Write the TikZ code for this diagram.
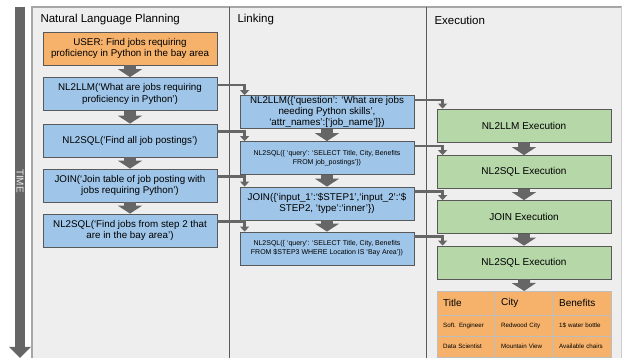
\documentclass[tikz,border=0pt]{standalone}
\usepackage{fontspec}
\setmainfont{Liberation Sans}
\usetikzlibrary{arrows.meta, positioning}

\definecolor{panelbg}{HTML}{EEEEEE}
\definecolor{arrowgray}{HTML}{666666}
\definecolor{framegray}{HTML}{595959}
\definecolor{planorange}{HTML}{F6B26B}
\definecolor{stepblue}{HTML}{9FC5E8}
\definecolor{execgreen}{HTML}{B6D7A8}
\definecolor{cellline}{HTML}{BDBDBD}

\begin{document}
\begin{tikzpicture}[x=1pt, y=-1pt,
  every node/.style={font=\fontsize{9.8}{11.5}\selectfont},
  box/.style={draw=framegray, line width=0.8pt, minimum width=174pt, minimum height=33pt,
    inner sep=1pt, align=center},
  userbox/.style={box, fill=planorange},
  callbox/.style={box, fill=stepblue},
  execbox/.style={box, fill=execgreen, font=\fontsize{10}{12}\selectfont},
  smalltext/.style={font=\fontsize{7}{9}\selectfont},
  flow/.style={draw=arrowgray, line width=12pt, -{Triangle[width=24pt, length=8pt]}},
  link/.style={draw=arrowgray, line width=2.6pt, -{Triangle[width=9pt, length=5pt]}},
  title/.style={anchor=west, font=\fontsize{11.5}{13}\selectfont},
  headcell/.style={draw=cellline, fill=planorange, anchor=north west, text width=46pt,
    inner xsep=6pt, inner ysep=0pt, minimum height=24pt, font=\fontsize{10}{12}\selectfont},
  rowcell/.style={headcell, minimum height=21pt, font=\fontsize{6.2}{7}\selectfont}]

\useasboundingbox (0,0) rectangle (622,358);

% Panels
\fill[panelbg] (32,7) rectangle (622,358);
\draw[gray!70, line width=1.5pt] (32,358) -- (32,7) -- (622,7);
\draw[gray!40] (621,7) -- (621,358);
\draw[framegray, line width=0.8pt] (229,7) -- (229,358);
\draw[framegray, line width=0.8pt] (426,7) -- (426,358);
\node[title] (plantitle) at (37,20) {Natural Language Planning};
\node[title] (linktitle) at (234,20) {Linking};
\node[title] (exectitle) at (431,20) {Execution};

% Time axis
\coordinate (timetop) at (20,7);
\coordinate (timeend) at (20,358);
\draw[arrowgray, line width=10pt, -{Triangle[width=21pt, length=11pt]}] (timetop) -- (timeend);
\node[rotate=-90, white!92!black, font=\fontsize{10}{12}\selectfont] (timelabel) at (20,181) {TIME};

% Natural language planning
\node[userbox] (l1) at (130,48.5) {USER: Find jobs requiring\\proficiency in Python in the bay area};
\node[callbox] (l2) at (130,94) {NL2LLM(‘What are jobs requiring\\proficiency in Python’)};
\node[callbox] (l3) at (130,140.5) {NL2SQL(‘Find all job postings’)};
\node[callbox] (l4) at (130,185.5) {JOIN(‘Join table of job posting with\\jobs requiring Python’)};
\node[callbox] (l5) at (130,230.5) {NL2SQL(‘Find jobs from step 2 that\\are in the bay area’)};

% Linking
\node[callbox, inner ysep=0pt, font=\fontsize{9.8}{11}\selectfont] (m1) at (327,112)
  {NL2LLM(\{‘question’: ‘What are jobs\\needing Python skills’,\\‘attr\_names’:[‘job\_name’]\})};
\node[callbox, smalltext] (m2) at (327,158)
  {NL2SQL(\{ ‘query’: ‘SELECT Title, City, Benefits\\FROM job\_postings’\})};
\node[callbox] (m3) at (327,203.5)
  {JOIN(\{‘input\_1’:‘\$STEP1’,‘input\_2’:‘\$\\STEP2, ‘type’:‘inner’\})};
\node[callbox, smalltext] (m4) at (327,248.5)
  {NL2SQL(\{ ‘query’: ‘SELECT Title, City, Benefits\\FROM \$STEP3 WHERE Location IS ‘Bay Area’\})};

% Execution
\node[execbox] (r1) at (524,125.5) {NL2LLM Execution};
\node[execbox] (r2) at (524,172) {NL2SQL Execution};
\node[execbox] (r3) at (524,217) {JOIN Execution};
\node[execbox] (r4) at (524,262.5) {NL2SQL Execution};

% Result table
\foreach \col [count=\i] in {Title,City,Benefits}
  \node[headcell] (t0\i) at ({437+58*(\i-1)},291) {\col};
\foreach \col [count=\i] in {Soft. Engineer,Redwood City,1\$ water bottle}
  \node[rowcell] (t1\i) at ({437+58*(\i-1)},315) {\col};
\foreach \col [count=\i] in {Data Scientist,Mountain View,Available chairs}
  \node[rowcell] (t2\i) at ({437+58*(\i-1)},336) {\col};

% Steps within each column
\draw[flow] (l1.south) -- (l2.north);
\draw[flow] (l2.south) -- (l3.north);
\draw[flow] (l3.south) -- (l4.north);
\draw[flow] (l4.south) -- (l5.north);
\draw[flow] (m1.south) -- (m2.north);
\draw[flow] (m2.south) -- (m3.north);
\draw[flow] (m3.south) -- (m4.north);
\draw[flow] (r1.south) -- (r2.north);
\draw[flow] (r2.south) -- (r3.north);
\draw[flow] (r3.south) -- (r4.north);
\draw[flow] (r4.south) -- (t02.north);

% Planning to linking
\foreach \a/\b in {l2/m1, l3/m2, l4/m3, l5/m4}
  \draw[link] ([yshift=-8pt]\a.north east) -| ([xshift=5pt]\b.north west);

% Linking to execution
\foreach \a/\b in {m1/r1, m2/r2, m3/r3, m4/r4}
  \draw[link] ([yshift=-5pt]\a.north east) -| ([xshift=6pt]\b.north west);

\end{tikzpicture}
\end{document}
